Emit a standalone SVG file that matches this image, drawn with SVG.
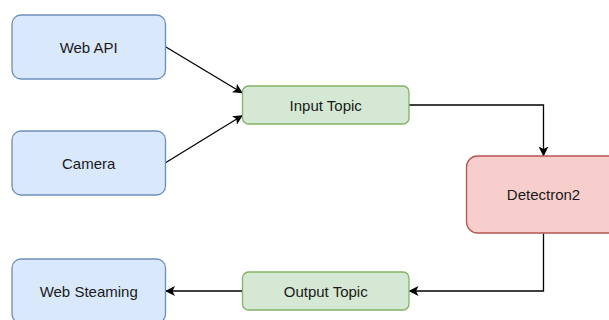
<svg xmlns="http://www.w3.org/2000/svg" width="609" height="320" viewBox="0 0 609 320">
<defs>
<style>
.blue{fill:#dae8fc;stroke:#6c8ebf;stroke-width:1.3}
.green{fill:#d5e8d4;stroke:#82b366;stroke-width:1.3}
.red{fill:#f8cecc;stroke:#b85450;stroke-width:1.3}
text{font-family:"Liberation Sans",Arial,Helvetica,sans-serif;font-size:15px;fill:#1a1a1a;text-anchor:middle;dominant-baseline:central}
.edge{fill:none;stroke:#000;stroke-width:1.3}
</style>
<marker id="arr" viewBox="0 0 10 10" refX="9" refY="5" markerWidth="10" markerHeight="10" markerUnits="userSpaceOnUse" orient="auto">
<path d="M0,0 L10,5 L0,10 L2.5,5 Z" fill="#000"/>
</marker>
</defs>
<rect width="609" height="320" fill="#fff"/>
<g id="connectors">
<line class="edge" x1="165.5" y1="46.7" x2="242" y2="92.7" marker-end="url(#arr)"/>
<line class="edge" x1="165.5" y1="162.7" x2="242" y2="115.7" marker-end="url(#arr)"/>
<polyline class="edge" points="409,105 543.5,105 543.5,155.5" marker-end="url(#arr)"/>
<polyline class="edge" points="543.5,233.5 543.5,291 409.5,291" marker-end="url(#arr)"/>
<line class="edge" x1="242" y1="291" x2="166" y2="291" marker-end="url(#arr)"/>
</g>
<g id="web-api"><rect class="blue" x="12" y="15" width="153.5" height="64" rx="9"/><text x="88.7" y="47">Web API</text></g>
<g id="camera"><rect class="blue" x="12" y="131" width="153.5" height="64" rx="9"/><text x="88.7" y="163">Camera</text></g>
<g id="input-topic"><rect class="green" x="242.5" y="86" width="166.5" height="38" rx="6"/><text x="325.7" y="105">Input Topic</text></g>
<g id="detectron2"><rect class="red" x="466.5" y="156" width="154" height="77" rx="11"/><text x="543.5" y="194.5">Detectron2</text></g>
<g id="output-topic"><rect class="green" x="242.5" y="272" width="166.5" height="38" rx="6"/><text x="325.7" y="291">Output Topic</text></g>
<g id="web-steaming"><rect class="blue" x="12" y="259" width="153.5" height="64" rx="9"/><text x="88.7" y="291">Web Steaming</text></g>
</svg>
